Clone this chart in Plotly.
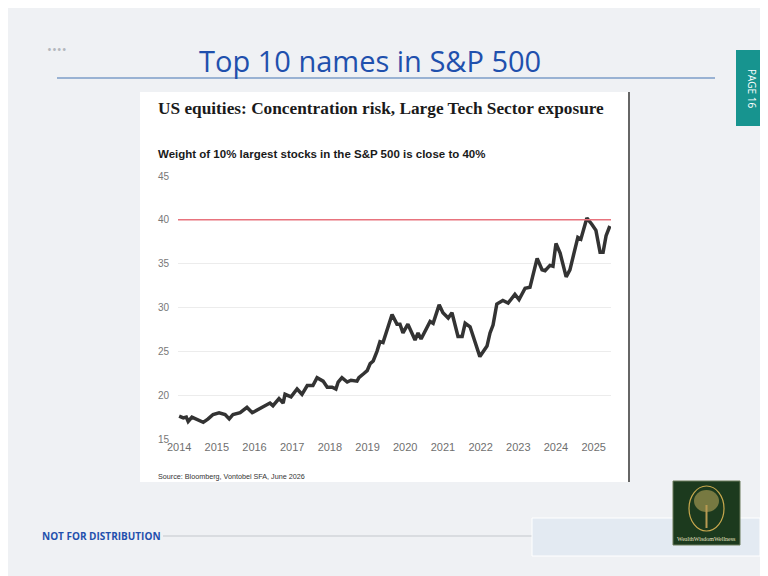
import plotly.graph_objects as go

# weight of top 10% of S&P 500 names (decimal year, %)
years = [2014.0, 2014.11, 2014.19, 2014.24, 2014.34, 2014.64, 2014.77, 2014.90,
         2015.06, 2015.22, 2015.33, 2015.43, 2015.62, 2015.80, 2015.94,
         2016.07, 2016.23, 2016.41, 2016.49, 2016.65, 2016.76, 2016.81, 2016.97,
         2017.13, 2017.26, 2017.40, 2017.55, 2017.66, 2017.82, 2017.93,
         2018.06, 2018.16, 2018.22, 2018.32, 2018.46, 2018.56, 2018.72, 2018.77, 2018.91, 2018.99,
         2019.07, 2019.15, 2019.25, 2019.33, 2019.41, 2019.65, 2019.78, 2019.86, 2019.94,
         2020.07, 2020.26, 2020.34, 2020.42, 2020.53, 2020.66, 2020.74, 2020.90,
         2021.00, 2021.14, 2021.24, 2021.40, 2021.51, 2021.59, 2021.72, 2021.98,
         2022.17, 2022.25, 2022.33, 2022.43, 2022.59, 2022.73, 2022.91,
         2023.02, 2023.18, 2023.31, 2023.50, 2023.63, 2023.71, 2023.84, 2023.92,
         2024.00, 2024.11, 2024.27, 2024.37, 2024.45, 2024.58, 2024.66, 2024.82, 2024.95,
         2025.06, 2025.17, 2025.25, 2025.33, 2025.43]
weight = [17.6, 17.4, 17.5, 17.0, 17.5, 16.9, 17.3, 17.8,
          18.0, 17.8, 17.3, 17.8, 18.0, 18.6, 18.0,
          18.3, 18.6, 19.1, 18.8, 19.6, 19.1, 20.1, 19.8,
          20.7, 20.1, 21.1, 21.1, 22.0, 21.6, 20.9,
          20.9, 20.7, 21.5, 22.0, 21.5, 21.7, 21.6, 22.0, 22.5, 22.8,
          23.6, 23.9, 25.0, 26.1, 26.0, 29.2, 28.1, 28.1, 27.1,
          28.1, 26.3, 27.1, 26.4, 27.4, 28.4, 28.2, 30.3,
          29.4, 28.8, 29.4, 26.7, 26.7, 28.2, 27.8, 24.4,
          25.6, 27.1, 28.0, 30.4, 30.8, 30.5, 31.5,
          30.9, 32.2, 32.3, 35.6, 34.3, 34.2, 34.8, 34.7,
          37.3, 36.2, 33.5, 34.3, 35.8, 38.0, 37.8, 40.2, 39.5,
          38.8, 36.3, 36.3, 38.2, 39.3]
threshold = 40
year_ticks = list(range(2014, 2026))
y_ticks = [15, 20, 25, 30, 35, 40, 45]

W, H = 768, 576
OFF = 8  # the page body margin pushes the figure 8px right and down


def px(x):
    return (x - OFF) / W


def py(y):
    return 1 - (y - OFF) / H


def box(x0, x1, y0, y1, **kw):
    return dict(type="rect", xref="paper", yref="paper",
                x0=px(x0), x1=px(x1), y0=py(y1), y1=py(y0), **kw)


def seg(x0, x1, y0, y1, color, width):
    return dict(type="line", xref="paper", yref="paper", x0=px(x0), x1=px(x1),
                y0=py(y0), y1=py(y1), line=dict(color=color, width=width))


def label(text, x, y, size, color, family="Open Sans", anchor="left", **kw):
    return dict(text=text, x=px(x), y=py(y), xref="paper", yref="paper",
                xanchor=anchor, yanchor="middle", showarrow=False,
                font=dict(family=family, size=size, color=color), **kw)


fig = go.Figure()
fig.add_trace(go.Scatter(x=years, y=weight, mode="lines",
                         line=dict(color="#333333", width=3.5),
                         showlegend=False, hoverinfo="skip"))

shapes = [
    box(140, 630, 92, 482, fillcolor="white", line=dict(width=0), layer="below"),
    seg(629, 629, 92, 482, "#333333", 1.5),
    seg(57, 715, 78, 78, "#7d9dc8", 1.5),
    box(736, 776, 50, 126, fillcolor="#17948f", line=dict(width=0)),
    seg(163, 532, 536, 536, "#c4c7cc", 1.2),
    box(532, 760, 518, 556, fillcolor="#e3eaf2", line=dict(color="white", width=1)),
    # logo
    box(673, 740, 481, 545, fillcolor="#1c3a1e", line=dict(color="#6b7a5a", width=1)),
    dict(type="circle", xref="paper", yref="paper", x0=px(689), x1=px(724),
         y0=py(531), y1=py(486), line=dict(color="#c9a94e", width=1.2)),
    dict(type="circle", xref="paper", yref="paper", x0=px(694), x1=px(719),
         y0=py(512), y1=py(490), fillcolor="#8f8a4a", line=dict(width=0), opacity=0.8),
    seg(706.5, 706.5, 528, 505, "#b89a52", 2),
]

annotations = [
    label("Top 10 names in S&P 500", 370, 61, 29, "#1f50ad", anchor="center"),
    label("••••", 45, 49, 13, "#b3b7bd"),
    label("PAGE 16", 752, 88, 10, "white", anchor="center", textangle=90),
    label("<b>US equities: Concentration risk, Large Tech Sector exposure</b>",
          156, 108, 17.3, "#1a1a1a", family="Liberation Serif"),
    label("<b>Weight of 10% largest stocks in the S&P 500 is close to 40%</b>",
          156, 154, 11.5, "#1a1a1a", family="Liberation Sans"),
    label("Source: Bloomberg, Vontobel SFA, June 2026",
          156, 476, 7.2, "#333333", family="Liberation Sans"),
    label("<b>NOT FOR DISTRIBUTION</b>", 40, 536, 10, "#1f50ad"),
    label("WealthWisdomWellness", 706.5, 539, 6, "#e8e0c0",
          family="Liberation Serif", anchor="center"),
]

fig.update_layout(
    width=W, height=H,
    margin=dict(l=0, r=0, t=0, b=0, autoexpand=False),
    paper_bgcolor="#eff1f4",
    plot_bgcolor="white",
    shapes=shapes,
    annotations=annotations,
    xaxis=dict(domain=[px(178), px(611)], range=[2013.97, 2025.46], automargin=False,
               tickvals=year_ticks, ticktext=[str(y) for y in year_ticks],
               showgrid=False, zeroline=False, showline=False, ticks="",
               tickfont=dict(family="Liberation Sans", size=11, color="#6f6f6f")),
    yaxis=dict(domain=[py(439), py(176)], range=[15, 45], tickvals=y_ticks, automargin=False,
               showgrid=True, gridcolor="#ececec", gridwidth=1, zeroline=False,
               showline=False, ticks="", ticklabelstandoff=8,
               tickfont=dict(family="Liberation Sans", size=10, color="#777777")),
)
# red 40% line added after the layout shapes so it is not merged into them
fig.add_hline(y=threshold, line=dict(color="#e8737d", width=1.5))

fig.write_html("out.html")
